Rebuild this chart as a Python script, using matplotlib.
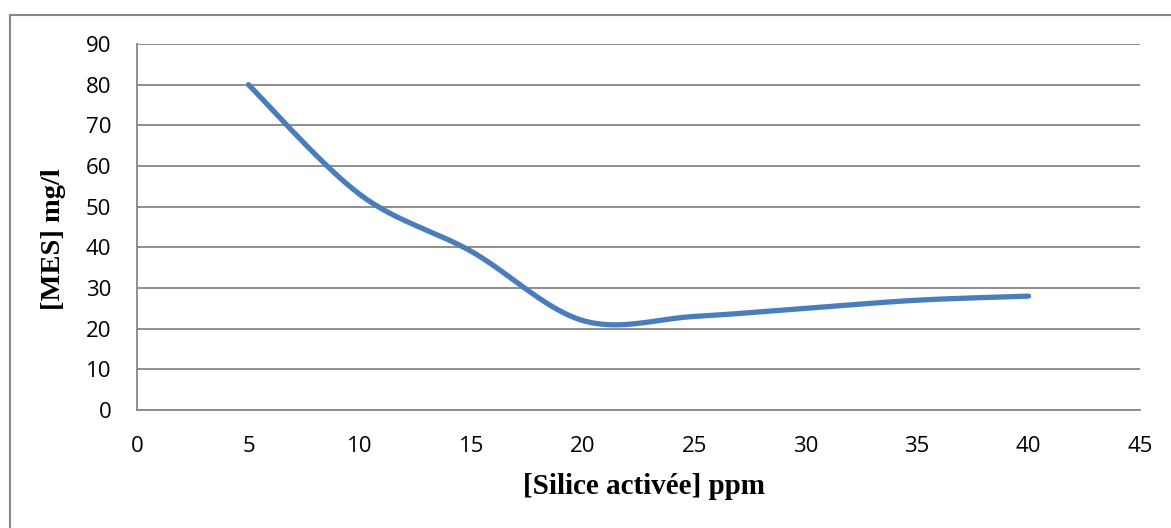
import numpy as np
import matplotlib.pyplot as plt
from matplotlib.patches import Rectangle

# Data.
silice = [5, 10, 15, 20, 25, 30, 35, 40]
mes = [80, 53, 39, 22, 23, 25, 27, 28]
x_ticks = list(range(0, 50, 5))
y_ticks = list(range(0, 100, 10))


def excel_smooth(xs, ys, n=40):
    # Catmull-Rom style Bezier, like Excel's smoothed line.
    px = np.array(xs, float)
    py = np.array(ys, float)
    px = np.concatenate([[px[0]], px, [px[-1]]])
    py = np.concatenate([[py[0]], py, [py[-1]]])
    t = np.linspace(0, 1, n)
    out_x, out_y = [], []
    for i in range(1, len(px) - 2):
        p0 = np.array([px[i], py[i]])
        p3 = np.array([px[i + 1], py[i + 1]])
        c1 = p0 + (np.array([px[i + 1], py[i + 1]]) - np.array([px[i - 1], py[i - 1]])) / 6
        c2 = p3 - (np.array([px[i + 2], py[i + 2]]) - np.array([px[i], py[i]])) / 6
        b = ((1 - t) ** 3)[:, None] * p0 + (3 * (1 - t) ** 2 * t)[:, None] * c1 \
            + (3 * (1 - t) * t ** 2)[:, None] * c2 + (t ** 3)[:, None] * p3
        out_x.extend(b[:, 0])
        out_y.extend(b[:, 1])
    return out_x, out_y


fig = plt.figure(figsize=(11.71, 5.28), dpi=100)
ax = fig.add_axes([137 / 1171, 1 - 410 / 528, 1003 / 1171, 366 / 528])

# Outer chart frame.
fig.patches.append(Rectangle((10 / 1171, -0.1), 1.2, 1 - 15 / 528 + 0.1,
                             transform=fig.transFigure, fill=False,
                             edgecolor='#868686', linewidth=1.5))

sx, sy = excel_smooth(silice, mes)
ax.plot(sx, sy, color='#4a7ebb', linewidth=3.8, solid_capstyle='round', zorder=3)

ax.set_xlim(0, 45)
ax.set_ylim(0, 90)
ax.set_xticks(x_ticks)
ax.set_yticks(y_ticks)
ax.grid(axis='y', color='#868686', linewidth=1.3)
ax.tick_params(length=0, labelsize=16)
ax.tick_params(axis='y', pad=18.5)
ax.tick_params(axis='x', pad=18.5)
for lab in ax.get_xticklabels() + ax.get_yticklabels():
    lab.set_family('Open Sans')

for s in ['top', 'right']:
    ax.spines[s].set_visible(False)
ax.spines['left'].set_color('#868686')
ax.spines['bottom'].set_color('#868686')
ax.spines['left'].set_linewidth(1.3)
ax.spines['bottom'].set_linewidth(1.3)

ax.set_xlabel('[Silice activée] ppm', family='Liberation Serif',
              fontweight='bold', fontsize=21)
ax.set_ylabel('[MES] mg/l', family='Liberation Serif',
              fontweight='bold', fontsize=20.5)
ax.xaxis.set_label_coords(0.505, -0.172)
ax.yaxis.set_label_coords(-0.071, 0.467)

plt.savefig('out.png', dpi=100)
